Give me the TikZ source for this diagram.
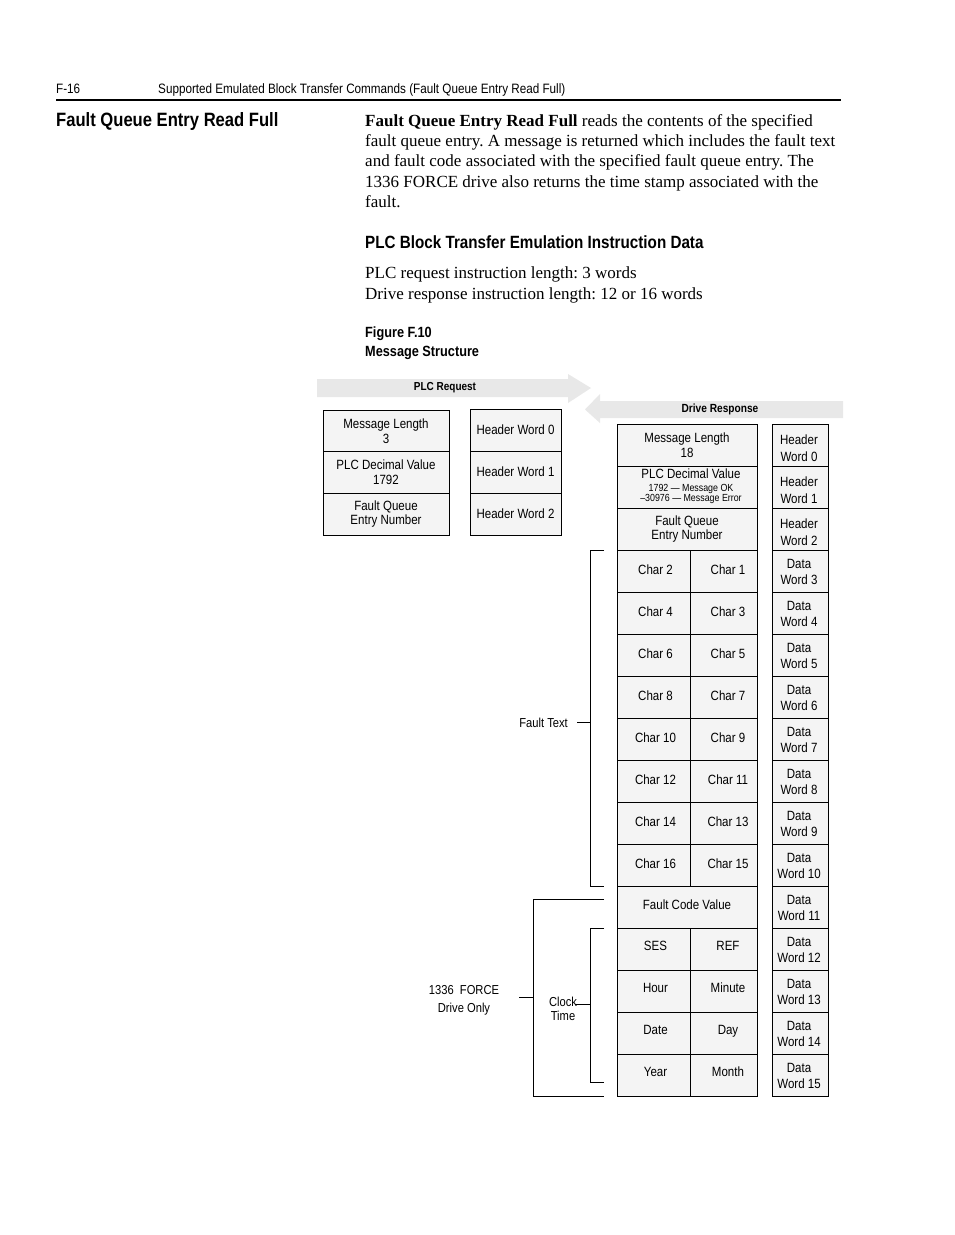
\documentclass[tikz,border=0pt]{standalone}
\usepackage{fontspec}
\setmainfont{Liberation Serif}
\setsansfont{Liberation Sans}[FakeStretch=0.86]
\definecolor{cellgray}{HTML}{F4F4F4}
\definecolor{arrowgray}{HTML}{E8E8E8}
\begin{document}
\frenchspacing
\begin{tikzpicture}[x=1pt,y=-1pt,
  cell/.style={draw=black, line width=0.9pt, fill=cellgray, inner sep=0pt, align=center,
    font=\sffamily\fontsize{13.4}{14.5}\selectfont},
  reqcell/.style={cell, minimum width=126pt, minimum height=42pt},
  hdrcell/.style={cell, minimum width=91pt, minimum height=42pt},
  fullcell/.style={cell, minimum width=140pt, minimum height=42pt},
  lcell/.style={cell, minimum width=73pt, minimum height=42pt},
  rcell/.style={cell, minimum width=67pt, minimum height=42pt},
  wcell/.style={cell, minimum width=56pt, minimum height=42pt, font=\sffamily\fontsize{13.4}{16.5}\selectfont},
  bodytext/.style={anchor=base west, inner sep=0pt, font=\fontsize{17}{20}\selectfont},
  lbl/.style={inner sep=0pt, align=center, font=\sffamily\fontsize{13}{17}\selectfont},
  brk/.style={line width=0.9pt},
  band/.style={fill=arrowgray, draw=none}
]
\useasboundingbox (0,0) rectangle (954,1235);
\fill[white] (0,0) rectangle (954,1235);

% page header
\node[anchor=base west, inner sep=0pt, font=\sffamily\fontsize{13.6}{15}\selectfont] (pg) at (56,93) {F-16};
\node[anchor=base west, inner sep=0pt, font=\sffamily\fontsize{13.6}{15}\selectfont] (run) at (158,93) {Supported Emulated Block Transfer Commands (Fault Queue Entry Read Full)};
\coordinate (rl) at (56,100);
\coordinate (rr) at (841,100);
\draw[line width=2pt] (rl) -- (rr);

% side heading
\node[anchor=base west, inner sep=0pt, font=\sffamily\bfseries\fontsize{19.3}{22}\selectfont] (side) at (56,126) {Fault Queue Entry Read Full};

% paragraph
\node[bodytext] (p1) at (365,126) {\textbf{Fault Queue Entry Read Full} reads the contents of the specified};
\node[bodytext] (p2) at (365,146) {fault queue entry. A message is returned which includes the fault text};
\node[bodytext] (p3) at (365,166) {and fault code associated with the specified fault queue entry. The};
\node[bodytext] (p4) at (365,187) {1336 FORCE drive also returns the time stamp associated with the};
\node[bodytext] (p5) at (365,207) {fault.};

\node[anchor=base west, inner sep=0pt, font=\sffamily\bfseries\fontsize{17.7}{20}\selectfont] (sub) at (365,248) {PLC Block Transfer Emulation Instruction Data};
\node[bodytext] (q1) at (365,278) {PLC request instruction length: 3 words};
\node[bodytext] (q2) at (365,299) {Drive response instruction length: 12 or 16 words};

\node[anchor=base west, inner sep=0pt, font=\sffamily\bfseries\fontsize{14.8}{16}\selectfont] (fig) at (365,337) {Figure F.10};
\node[anchor=base west, inner sep=0pt, font=\sffamily\bfseries\fontsize{14.8}{16}\selectfont] (figt) at (365,356) {Message Structure};

% arrows
\fill[band] (317,379) -- (568,379) -- (568,374) -- (591,388) -- (568,403) -- (568,397) -- (317,397) -- cycle;
\node[font=\sffamily\bfseries\fontsize{11.6}{12}\selectfont, inner sep=0pt] (plcreq) at (445,388) {PLC Request};
\fill[band] (843,401) -- (600,401) -- (600,394) -- (585,409.5) -- (600,423) -- (600,418) -- (843,418) -- cycle;
\node[font=\sffamily\bfseries\fontsize{11.8}{12}\selectfont, inner sep=0pt] (drvresp) at (720,409) {Drive Response};

% request
\node[reqcell] (r1) at (386,431) {Message Length\\3};
\node[reqcell] (r2) at (386,472) {PLC Decimal Value\\1792};
\node[reqcell] (r3) at (386,514) {Fault Queue\\Entry Number};
\node[hdrcell] (h0) at (515.5,430) {Header Word 0};
\node[hdrcell] (h1) at (515.5,472) {Header Word 1};
\node[hdrcell] (h2) at (515.5,514) {Header Word 2};

% response
\node[fullcell] (s1) at (687,445) {Message Length\\18};
\node[fullcell] (s2) at (687,487) {};
\node[inner sep=0pt, align=center, font=\sffamily\fontsize{13.4}{15}\selectfont] (s2a) at (691,474) {PLC Decimal Value};
\node[inner sep=0pt, align=center, font=\sffamily\fontsize{10.3}{10}\selectfont] (s2b) at (691,493.5) {1792 --- Message OK\\--30976 --- Message Error};
\node[fullcell] (s3) at (687,529) {Fault Queue\\Entry Number};

\foreach \i/\a/\b in {0/Char 2/Char 1, 1/Char 4/Char 3, 2/Char 6/Char 5, 3/Char 8/Char 7,
  4/Char 10/Char 9, 5/Char 12/Char 11, 6/Char 14/Char 13, 7/Char 16/Char 15} {
  \node[lcell] (cl\i) at (653.5,{571+42*\i}) {};
  \node[rcell] (cr\i) at (723.5,{571+42*\i}) {};
  \node[inner sep=0pt, font=\sffamily\fontsize{13.4}{14.5}\selectfont] (clt\i) at (655.5,{570+42*\i}) {\a};
  \node[inner sep=0pt, font=\sffamily\fontsize{13.4}{14.5}\selectfont] (crt\i) at (728,{570+42*\i}) {\b};
}
\node[fullcell] (fcv) at (687,907) {};
\node[inner sep=0pt, font=\sffamily\fontsize{13.4}{14.5}\selectfont] (fcvt) at (687,905) {Fault Code Value};
\foreach \i/\a/\b in {0/SES/REF, 1/Hour/Minute, 2/Date/Day, 3/Year/Month} {
  \node[lcell] (tl\i) at (653.5,{949+42*\i}) {};
  \node[rcell] (tr\i) at (723.5,{949+42*\i}) {};
  \node[inner sep=0pt, font=\sffamily\fontsize{13.4}{14.5}\selectfont] (tlt\i) at (655.5,{948+42*\i}) {\strut\a};
  \node[inner sep=0pt, font=\sffamily\fontsize{13.4}{14.5}\selectfont] (trt\i) at (728,{948+42*\i}) {\strut\b};
}

% right word column
\foreach \i in {0,1,2} {
  \node[wcell] (w\i) at (800,{445+42*\i}) {};
  \node[inner sep=0pt, align=center, font=\sffamily\fontsize{13.4}{16.5}\selectfont] (wt\i) at (799,{448+42*\i}) {Header\\Word \i};
}
\foreach \i in {3,...,15} {
  \node[wcell] (w\i) at (800,{445+42*\i}) {};
  \node[inner sep=0pt, align=center, font=\sffamily\fontsize{13.4}{16.5}\selectfont] (wt\i) at (799,{446+42*\i}) {Data\\Word \i};
}

% Fault text bracket
\coordinate (ft1) at (604,550);
\coordinate (ft2) at (590,550);
\coordinate (ft3) at (590,886);
\coordinate (ft4) at (604,886);
\coordinate (ftm) at (590,722);
\coordinate (ftl) at (577,722);
\draw[brk] (ft1) -- (ft2) -- (ft3) -- (ft4);
\draw[brk] (ftm) -- (ftl);
\node[lbl, anchor=east] (ftxt) at (568,723) {Fault Text};

% Clock time bracket
\coordinate (ct1) at (604,928);
\coordinate (ct2) at (590,928);
\coordinate (ct3) at (590,1082);
\coordinate (ct4) at (604,1082);
\coordinate (ctm) at (590,1004);
\coordinate (ctl) at (575,1004);
\draw[brk] (ct1) -- (ct2) -- (ct3) -- (ct4);
\draw[brk] (ctm) -- (ctl);
\node[lbl, font=\sffamily\fontsize{13}{14}\selectfont] (ctxt) at (563,1009) {Clock\\Time};

% 1336 FORCE bracket
\coordinate (fo1) at (604,899);
\coordinate (fo2) at (533,899);
\coordinate (fo3) at (533,1096);
\coordinate (fo4) at (604,1096);
\coordinate (fom) at (533,997);
\coordinate (fol) at (519,997);
\draw[brk] (fo1) -- (fo2) -- (fo3) -- (fo4);
\draw[brk] (fom) -- (fol);
\node[lbl, font=\sffamily\fontsize{13}{18}\selectfont] (fotxt) at (464,1000) {1336\ \ FORCE\\Drive Only};
\end{tikzpicture}
\end{document}
